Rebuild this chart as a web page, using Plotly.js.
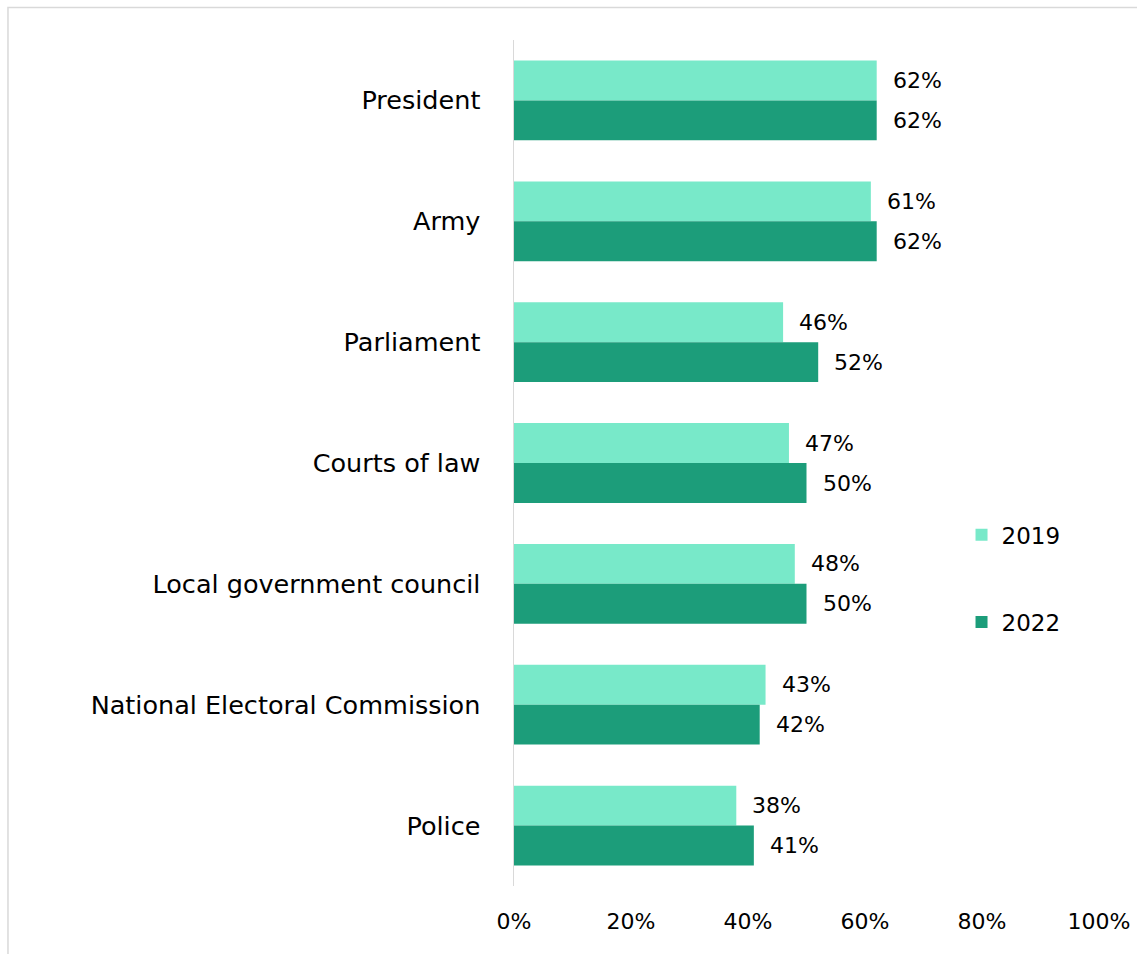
<!DOCTYPE html>
<html>
<head>
<meta charset="utf-8">
<script src="https://cdn.plot.ly/plotly-3.0.1.min.js"></script>
<style>
html,body{margin:0;padding:0;background:#fff;}
#chart{width:1137px;height:954px;}
</style>
</head>
<body>
<div id="chart"></div>
<script>
const categories = ["President","Army","Parliament","Courts of law","Local government council","National Electoral Commission","Police"];
const values2019 = [62,61,46,47,48,43,38];
const values2022 = [62,62,52,50,50,42,41];
const seriesNames = ["2019","2022"];
const xTickVals = [0,20,40,60,80,100];
const xTickText = ["0%","20%","40%","60%","80%","100%"];

const FONT = "'DejaVu Sans', sans-serif";
const FS = 22;
const c2019 = "#78e9c9";
const c2022 = "#1c9d7a";

const traces = [
  {type:"bar", orientation:"h", name:seriesNames[0], y:categories, x:values2019, marker:{color:c2019}, legend:"legend", showlegend:true, hoverinfo:"x+y"},
  {type:"bar", orientation:"h", name:seriesNames[1], y:categories, x:values2022, marker:{color:c2022}, legend:"legend2", showlegend:true, hoverinfo:"x+y"}
];

const annotations = [];
categories.forEach((c,i)=>{
  annotations.push({x:values2019[i], y:c, xref:"x", yref:"y", text:values2019[i]+"%", showarrow:false, xanchor:"left", yanchor:"middle", xshift:14, yshift:20, font:{family:FONT,size:FS,color:"#000"}});
  annotations.push({x:values2022[i], y:c, xref:"x", yref:"y", text:values2022[i]+"%", showarrow:false, xanchor:"left", yanchor:"middle", xshift:14, yshift:-20, font:{family:FONT,size:FS,color:"#000"}});
});

const layout = {
  width:1137, height:954,
  margin:{l:514, r:38, t:39.5, b:67.5},
  paper_bgcolor:"#fff", plot_bgcolor:"#fff",
  showlegend:true,
  font:{family:FONT, size:FS, color:"#000"},
  barmode:"group", bargap:0.34, bargroupgap:0,
  xaxis:{range:[0,100], tickvals:xTickVals, ticktext:xTickText, showgrid:false, zeroline:false, showline:false,
         ticks:"outside", ticklen:16, tickcolor:"rgba(0,0,0,0)", tickfont:{family:FONT,size:FS,color:"#000"}, fixedrange:true},
  yaxis:{autorange:"reversed", showgrid:false, zeroline:false, showline:true, linecolor:"#d9d9d9", linewidth:1.5,
         ticks:"outside", ticklen:27, tickcolor:"rgba(0,0,0,0)", tickfont:{family:FONT,size:25.5,color:"#000"}, fixedrange:true},
  legend:{x:0.765, y:0.415, xanchor:"left", yanchor:"middle", font:{family:FONT,size:23,color:"#000"}, bgcolor:"rgba(0,0,0,0)", itemwidth:30},
  legend2:{x:0.765, y:0.312, xanchor:"left", yanchor:"middle", font:{family:FONT,size:23,color:"#000"}, bgcolor:"rgba(0,0,0,0)", itemwidth:30},
  annotations:annotations,
  shapes:[{type:"rect", xref:"paper", yref:"paper", x0:-0.865, x1:1.2, y0:-0.2, y1:1.0384, line:{color:"#d9d9d9", width:1.5}, fillcolor:"rgba(0,0,0,0)", layer:"below"}]
};

Plotly.newPlot("chart", traces, layout, {displayModeBar:false, staticPlot:true});
</script>
</body>
</html>
